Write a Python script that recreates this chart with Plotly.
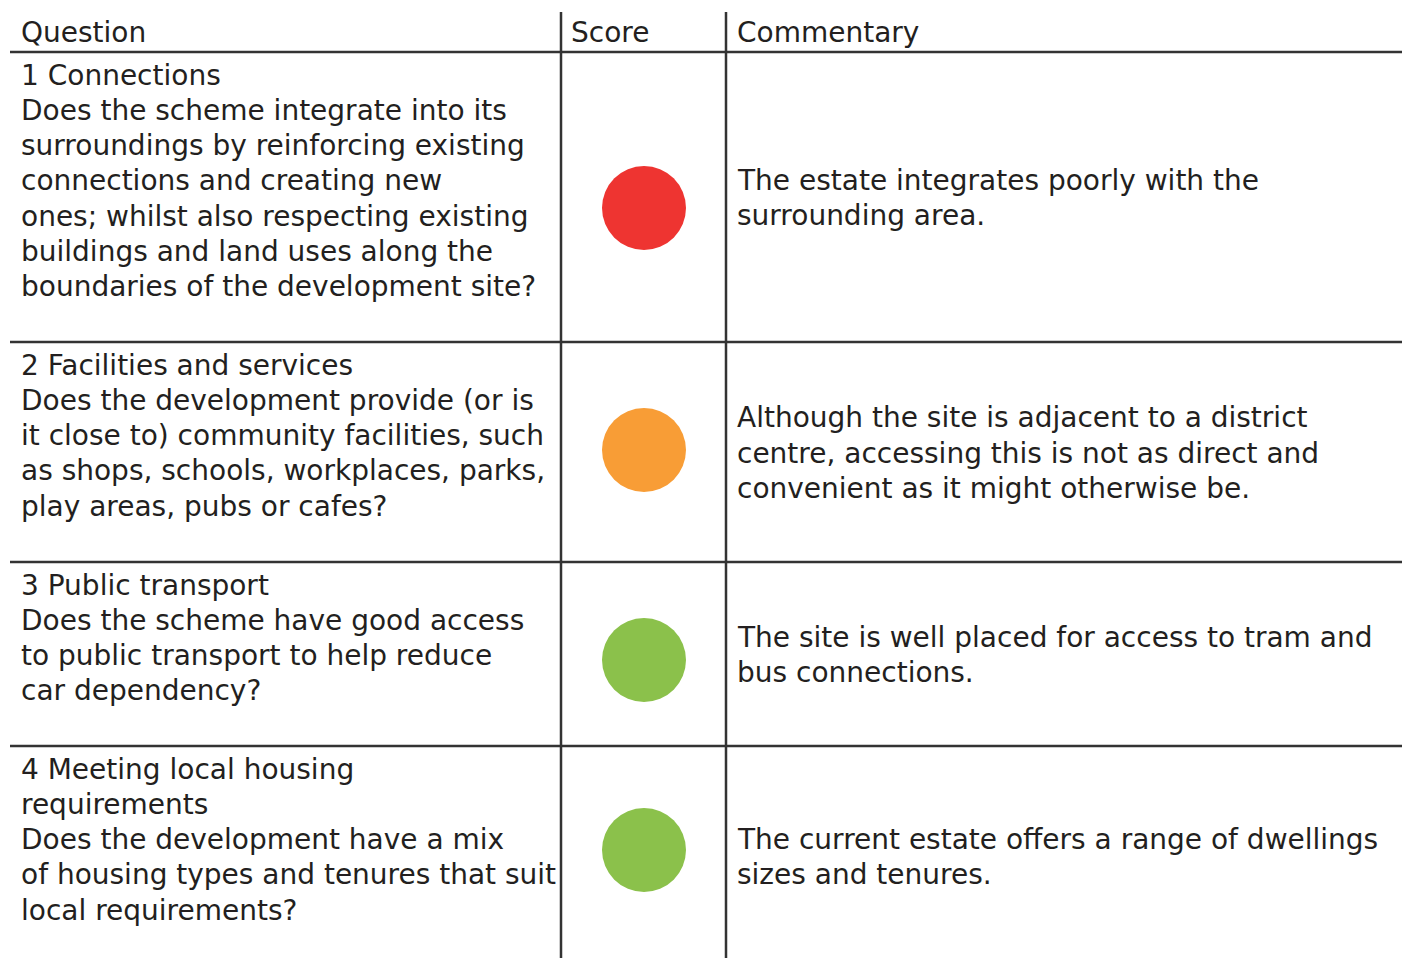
import plotly.graph_objects as go

# ---- data ----
headers = ["Question", "Score", "Commentary"]
question_titles = [
    ["1 Connections"],
    ["2 Facilities and services"],
    ["3 Public transport"],
    ["4 Meeting local housing", "requirements"],
]
question_bodies = [
    ["Does the scheme integrate into its",
     "surroundings by reinforcing existing",
     "connections and creating new",
     "ones; whilst also respecting existing",
     "buildings and land uses along the",
     "boundaries of the development site?"],
    ["Does the development provide (or is",
     "it close to) community facilities, such",
     "as shops, schools, workplaces, parks,",
     "play areas, pubs or cafes?"],
    ["Does the scheme have good access",
     "to public transport to help reduce",
     "car dependency?"],
    ["Does the development have a mix",
     "of housing types and tenures that suit",
     "local requirements?"],
]
scores = ["red", "amber", "green", "green"]
commentary = [
    ["The estate integrates poorly with the",
     "surrounding area."],
    ["Although the site is adjacent to a district",
     "centre, accessing this is not as direct and",
     "convenient as it might otherwise be."],
    ["The site is well placed for access to tram and",
     "bus connections."],
    ["The current estate offers a range of dwellings",
     "sizes and tenures."],
]

# ---- layout / style ----
W, H = 1410, 958
OFF = 8  # default page body margin
score_colors = {"red": "#EE3431", "amber": "#F89D36", "green": "#8BC14B"}
row_tops = [52, 342, 562, 746]
circle_y = [208, 450, 660, 850]
comment_center_y = [198, 453, 655, 857]
circle_x = 644
col_x = [19, 569, 735]
vlines_x = [561, 726]
LINE_H = 35.3
line_color = "#333333"
text_color = "#231F20"
FONT = "DejaVu Sans"
FS = 28

fig = go.Figure()

# score circles
fig.add_trace(go.Scatter(
    x=[circle_x] * len(scores), y=circle_y, mode="markers",
    marker=dict(size=84, color=[score_colors[s] for s in scores], line=dict(width=0)),
    hoverinfo="skip", showlegend=False))

shapes = []
for y in row_tops:
    shapes.append(dict(type="line", x0=10, x1=1406, y0=y, y1=y,
                       line=dict(color=line_color, width=2.5), xref="x", yref="y"))
for x in vlines_x:
    shapes.append(dict(type="line", x0=x, x1=x, y0=12, y1=H + 20,
                       line=dict(color=line_color, width=2.5), xref="x", yref="y"))

annotations = []

def add_line(x, y, t):
    annotations.append(dict(x=x, y=y, text=t, xanchor="left", yanchor="middle",
                            showarrow=False, align="left"))

for hx, h in zip(col_x, headers):
    add_line(hx, 32, h)
for i in range(len(scores)):
    qlines = question_titles[i] + question_bodies[i]
    for j, t in enumerate(qlines):
        add_line(col_x[0], row_tops[i] + 23 + j * LINE_H, t)
    n = len(commentary[i])
    for j, t in enumerate(commentary[i]):
        add_line(col_x[2], comment_center_y[i] + (j - (n - 1) / 2) * LINE_H, t)

fig.update_layout(
    width=W, height=H, margin=dict(l=0, r=0, t=0, b=0),
    paper_bgcolor="white", plot_bgcolor="white",
    font=dict(family=FONT, size=FS, color=text_color),
    xaxis=dict(range=[OFF, W + OFF], visible=False, fixedrange=True),
    yaxis=dict(range=[H + OFF, OFF], visible=False, fixedrange=True),
    shapes=shapes, annotations=annotations, showlegend=False,
)
fig.write_html("out.html")
